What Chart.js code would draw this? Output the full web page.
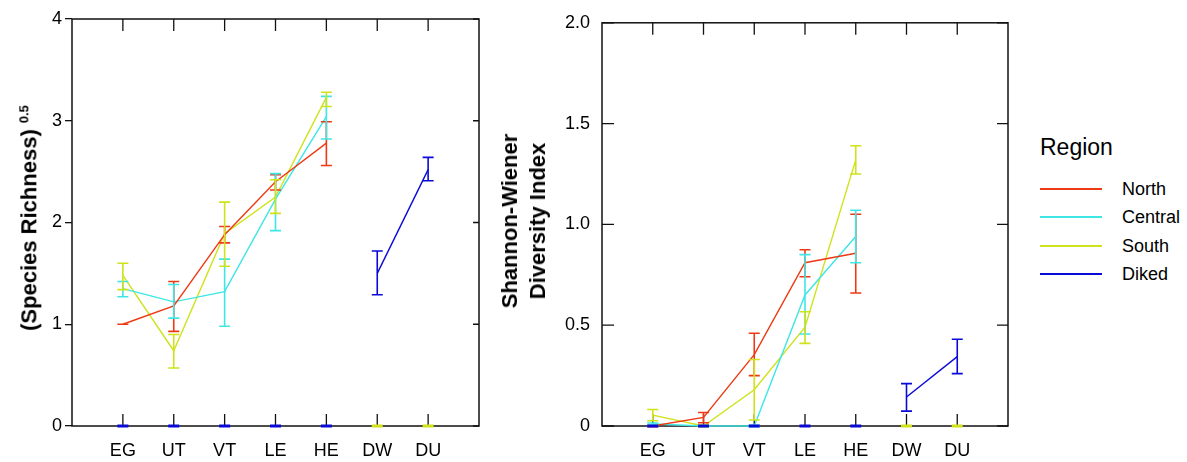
<!DOCTYPE html>
<html>
<head>
<meta charset="utf-8">
<script src="https://cdn.jsdelivr.net/npm/chart.js@4.4.1/dist/chart.umd.min.js"></script>
<style>
    body { margin: 0; background: #fff; font-family: 'Liberation Sans', Arial, sans-serif; }
    #page { position: relative; width: 1187px; height: 462px; overflow: hidden; }
    .box { position: absolute; top: 0; }
    .ytitle { position: absolute; font-weight: bold; font-size: 22px; color: #000; text-align: center; white-space: nowrap; transform: translate(-50%, -50%) rotate(-90deg); }
    .ytitle sup { font-size: 13px; margin-left: 6px; }
    .leg { position: absolute; color: #000; white-space: nowrap; }
    .legline { position: absolute; width: 62px; height: 2px; }
</style>
</head>
<body>
<div id="page">
    <div class="box" style="left:0;width:490px;height:462px"><canvas id="richChart" width="490" height="462"></canvas></div>
    <div class="box" style="left:490px;width:530px;height:462px"><canvas id="shannonChart" width="530" height="462"></canvas></div>

    <div class="ytitle" style="left:27px;top:218px;line-height:26px">(Species Richness)<sup>0.5</sup></div>
    <div class="ytitle" style="left:524px;top:221px;line-height:28px">Shannon-Wiener<br>Diversity Index</div>

    <div id="legend"></div>
</div>

<script>
// categories along the x axis
const categories = ['EG', 'UT', 'VT', 'LE', 'HE', 'DW', 'DU'];
const regions = ['North', 'Central', 'South', 'Diked'];
const regionColors = ['#ee3a14', '#3ee6e6', '#cfe21a', '#0a0ad8'];

// (Species Richness)^0.5 : mean, lower and upper error bar ends
const richNorth = [1.00, 1.18, 1.88, 2.40, 2.78, null, null];
const richNorthLo = [1.00, 0.93, 1.80, 2.32, 2.56, null, null];
const richNorthHi = [1.00, 1.42, 1.96, 2.47, 2.99, null, null];

const richCentral = [1.35, 1.22, 1.32, 2.23, 3.04, null, null];
const richCentralLo = [1.27, 1.06, 0.98, 1.92, 2.82, null, null];
const richCentralHi = [1.42, 1.39, 1.64, 2.48, 3.24, null, null];

const richSouth = [1.48, 0.74, 1.89, 2.25, 3.23, null, null];
const richSouthLo = [1.34, 0.57, 1.57, 2.09, 3.14, 0, 0];
const richSouthHi = [1.60, 0.90, 2.20, 2.42, 3.28, 0, 0];

const richDiked = [null, null, null, null, null, 1.50, 2.52];
const richDikedLo = [0, 0, 0, 0, 0, 1.29, 2.41];
const richDikedHi = [0, 0, 0, 0, 0, 1.72, 2.64];

// Shannon-Wiener diversity index
const shanNorth = [0.00, 0.043, 0.354, 0.81, 0.857, null, null];
const shanNorthLo = [0.00, 0.016, 0.25, 0.74, 0.66, null, null];
const shanNorthHi = [0.00, 0.067, 0.46, 0.874, 1.05, null, null];

const shanCentral = [0.01, 0.00, 0.00, 0.65, 0.94, null, null];
const shanCentralLo = [0.005, 0.00, 0.00, 0.456, 0.81, null, null];
const shanCentralHi = [0.015, 0.00, 0.00, 0.85, 1.07, null, null];

const shanSouth = [0.054, 0.00, 0.18, 0.49, 1.32, null, null];
const shanSouthLo = [0.026, 0.00, 0.03, 0.41, 1.25, 0, 0];
const shanSouthHi = [0.082, 0.00, 0.33, 0.567, 1.39, 0, 0];

const shanDiked = [null, null, null, null, null, 0.144, 0.344];
const shanDikedLo = [0, 0, 0, 0, 0, 0.074, 0.26];
const shanDikedHi = [0, 0, 0, 0, 0, 0.21, 0.43];

// y tick labels
const richTicks = [0, 1, 2, 3, 4];
const shanTicks = ['0', '0.5', '1.0', '1.5', '2.0'];

Chart.defaults.font.family = "'Liberation Sans', Arial, sans-serif";
Chart.defaults.font.size = 18;
Chart.defaults.color = '#000';

function makeDataset(i, mean, lo, hi) {
    return {
        label: regions[i],
        data: mean.map((v, k) => ({ x: k + 1, y: v })),
        lo: lo,
        hi: hi,
        borderColor: regionColors[i],
        borderWidth: 1.4,
        pointRadius: 0,
        spanGaps: false,
        clip: 6
    };
}

// draws the frame and the inward tick marks
const framePlugin = {
    id: 'frame',
    beforeDatasetsDraw(chart, args, opts) {
        const { ctx, chartArea: a, scales } = chart;
        ctx.save();
        ctx.strokeStyle = '#111';
        ctx.lineWidth = 1.5;
        ctx.strokeRect(a.left, a.top, a.right - a.left, a.bottom - a.top);
        ctx.lineWidth = 1.3;
        ctx.beginPath();
        scales.x.ticks.forEach(t => {
            const x = scales.x.getPixelForValue(t.value);
            ctx.moveTo(x, a.top); ctx.lineTo(x, a.top + 12);
            ctx.moveTo(x, a.bottom); ctx.lineTo(x, a.bottom - 12);
        });
        scales.y.ticks.forEach(t => {
            const y = scales.y.getPixelForValue(t.value);
            if (opts.leftIn) { ctx.moveTo(a.left, y); ctx.lineTo(a.left + opts.leftIn, y); }
            ctx.moveTo(a.right, y); ctx.lineTo(a.right - opts.rightIn, y);
        });
        ctx.stroke();
        ctx.restore();
    }
};

// error bars with caps
const errorBarPlugin = {
    id: 'errorBars',
    afterDatasetsDraw(chart) {
        const { ctx, scales } = chart;
        ctx.save();
        chart.data.datasets.forEach(ds => {
            ctx.strokeStyle = ds.borderColor;
            ds.lo.forEach((lo, k) => {
                const hi = ds.hi[k];
                if (lo === null || hi === null) return;
                const x = scales.x.getPixelForValue(k + 1);
                const yl = scales.y.getPixelForValue(lo);
                const yh = scales.y.getPixelForValue(hi);
                // caps sitting on the axis need to be heavier to show
                ctx.lineWidth = hi === 0 ? 3 : 1.6;
                ctx.beginPath();
                ctx.moveTo(x, yl); ctx.lineTo(x, yh);
                ctx.moveTo(x - 5.5, yl); ctx.lineTo(x + 5.5, yl);
                ctx.moveTo(x - 5.5, yh); ctx.lineTo(x + 5.5, yh);
                ctx.stroke();
            });
        });
        ctx.restore();
    }
};

function xScale() {
    return {
        type: 'linear',
        min: 0,
        max: 8,
        afterBuildTicks: scale => { scale.ticks = categories.map((c, i) => ({ value: i + 1 })); },
        afterFit: scale => { scale.height = 36; },
        ticks: {
            autoSkip: false,
            maxRotation: 0,
            padding: 14,
            callback: v => categories[v - 1] || ''
        },
        grid: { display: false, drawTicks: false },
        border: { display: false }
    };
}

// left chart: species richness
new Chart(document.getElementById('richChart'), {
    type: 'line',
    data: {
        datasets: [
            makeDataset(0, richNorth, richNorthLo, richNorthHi),
            makeDataset(1, richCentral, richCentralLo, richCentralHi),
            makeDataset(2, richSouth, richSouthLo, richSouthHi),
            makeDataset(3, richDiked, richDikedLo, richDikedHi)
        ]
    },
    options: {
        responsive: false,
        animation: false,
        devicePixelRatio: 1,
        layout: { padding: { top: 19, right: 11, left: 0, bottom: 0 } },
        plugins: {
            legend: { display: false },
            tooltip: { enabled: false },
            frame: { leftIn: 0, rightIn: 6 }
        },
        scales: {
            x: xScale(),
            y: {
                min: 0,
                max: 4,
                afterBuildTicks: scale => { scale.ticks = richTicks.map(v => ({ value: v })); },
                afterFit: scale => { scale.width = 72; },
                ticks: { padding: 3 },
                grid: { drawOnChartArea: false, drawTicks: true, tickLength: 7, color: '#111', lineWidth: 1.3 },
                border: { display: false }
            }
        }
    },
    plugins: [framePlugin, errorBarPlugin]
});

// right chart: Shannon-Wiener index
new Chart(document.getElementById('shannonChart'), {
    type: 'line',
    data: {
        datasets: [
            makeDataset(0, shanNorth, shanNorthLo, shanNorthHi),
            makeDataset(1, shanCentral, shanCentralLo, shanCentralHi),
            makeDataset(2, shanSouth, shanSouthLo, shanSouthHi),
            makeDataset(3, shanDiked, shanDikedLo, shanDikedHi)
        ]
    },
    options: {
        responsive: false,
        animation: false,
        devicePixelRatio: 1,
        layout: { padding: { top: 19, right: 12, left: 0, bottom: 0 } },
        plugins: {
            legend: { display: false },
            tooltip: { enabled: false },
            frame: { leftIn: 12, rightIn: 11 }
        },
        scales: {
            x: xScale(),
            y: {
                min: 0,
                max: 2,
                afterBuildTicks: scale => { scale.ticks = shanTicks.map(v => ({ value: parseFloat(v) })); },
                afterFit: scale => { scale.width = 112; },
                ticks: {
                    padding: 12,
                    callback: (v, i) => shanTicks[i]
                },
                grid: { display: false, drawTicks: false },
                border: { display: false }
            }
        }
    },
    plugins: [framePlugin, errorBarPlugin]
});

// legend
const legend = document.getElementById('legend');
let html = '<div class="leg" style="left:1040px;top:133px;font-size:23px;line-height:28px">Region</div>';
regions.forEach((r, i) => {
    const y = 189 + i * 28.3;
    html += '<div class="legline" style="left:1040px;top:' + (y - 1) + 'px;background:' + regionColors[i] + '"></div>';
    html += '<div class="leg" style="left:1122px;top:' + (y - 11) + 'px;font-size:18px;line-height:22px">' + r + '</div>';
});
legend.innerHTML = html;
</script>
</body>
</html>
